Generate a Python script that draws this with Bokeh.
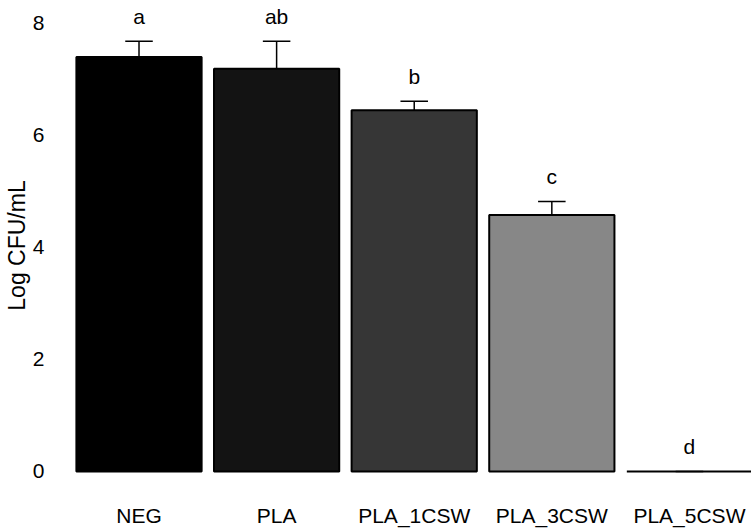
from bokeh.plotting import figure
from bokeh.models import Range1d, FixedTicker, ColumnDataSource
from bokeh.core.properties import value
from bokeh.embed import file_html
from bokeh.resources import INLINE

# Treatment groups and measured bacterial counts
categories = ["NEG", "PLA", "PLA_1CSW", "PLA_3CSW", "PLA_5CSW"]
log_cfu = [7.40, 7.19, 6.45, 4.58, 0.0]
std_err = [0.28, 0.49, 0.16, 0.24, 0.0]
letters = ["a", "ab", "b", "c", "d"]
bar_colors = ["#000000", "#131313", "#363636", "#878787", "#ffffff"]
y_ticks = [0, 2, 4, 6, 8]

FONT = "Liberation Sans"
x_pos = list(range(len(categories)))
cap_half = 0.1
letter_pad = 0.44

src = ColumnDataSource(dict(
    x=x_pos,
    top=log_cfu,
    err_top=[m + e for m, e in zip(log_cfu, std_err)],
    cap_l=[x - cap_half for x in x_pos],
    cap_r=[x + cap_half for x in x_pos],
    color=bar_colors,
    letter=letters,
    letter_y=[m + e + letter_pad for m, e in zip(log_cfu, std_err)],
))

p = figure(width=751, height=530, output_backend="svg", toolbar_location=None,
           x_range=Range1d(-0.556, 4.451), y_range=Range1d(-0.25, 8.32),
           min_border_left=60, min_border_right=0, min_border_top=5,
           min_border_bottom=45)
p.outline_line_color = None
p.background_fill_color = "white"
p.border_fill_color = "white"
p.xgrid.visible = False
p.ygrid.visible = False

# bars
p.vbar(x="x", top="top", bottom=0, width=0.91, source=src,
       fill_color="color", line_color="black", line_width=2)

# upper error bars with caps
p.segment(x0="x", y0="top", x1="x", y1="err_top", source=src,
          line_color="black", line_width=1.5)
p.segment(x0="cap_l", y0="err_top", x1="cap_r", y1="err_top", source=src,
          line_color="black", line_width=1.5)

# significance letters
p.text(x="x", y="letter_y", text="letter", source=src,
       text_font=value(FONT), text_font_size="21px", text_color="black",
       text_align="center", text_baseline="middle")

# axes
p.xaxis.ticker = FixedTicker(ticks=x_pos)
p.xaxis.major_label_overrides = {i: c for i, c in enumerate(categories)}
p.yaxis.ticker = FixedTicker(ticks=y_ticks)
for ax in (p.xaxis[0], p.yaxis[0]):
    ax.axis_line_color = None
    ax.major_tick_line_color = None
    ax.minor_tick_line_color = None
    ax.major_tick_out = 0
    ax.major_tick_in = 0
    ax.major_label_text_font = FONT
    ax.major_label_text_color = "black"

p.xaxis.major_label_text_font_size = "21px"
p.xaxis.major_label_standoff = 18
p.yaxis.major_label_text_font_size = "21px"
p.yaxis.major_label_standoff = 18
p.yaxis.axis_label = "Log CFU/mL"
p.yaxis.axis_label_text_font = FONT
p.yaxis.axis_label_text_font_size = "23px"
p.yaxis.axis_label_text_font_style = "normal"
p.yaxis.axis_label_text_color = "black"
p.yaxis.axis_label_standoff = 0

open("out.html", "w").write(file_html(p, INLINE))
